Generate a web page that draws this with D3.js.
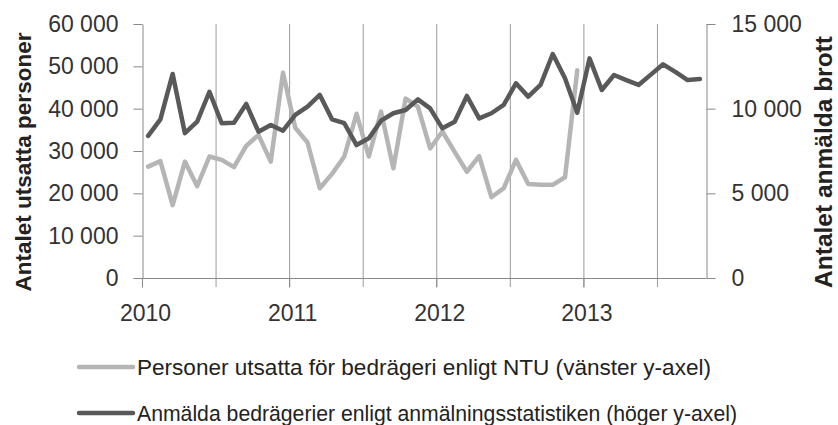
<!DOCTYPE html>
<html>
<head>
  <meta charset="utf-8">
  <style>
    body { margin: 0; background: #fff; }
    svg { display: block; font-family: "Liberation Sans", Arial, sans-serif; }
    .tick text { fill: #333; font-size: 23px; }
    .axis path, .axis line { stroke: #888; }
  </style>
</head>
<body>
  <svg id="chart" width="838" height="425"></svg>

  <script src="https://d3js.org/d3.v7.min.js"></script>
  <script>
    // months Jan 2010 - Oct 2013
    const months = [
      "2010-01","2010-02","2010-03","2010-04","2010-05","2010-06","2010-07","2010-08","2010-09","2010-10","2010-11","2010-12",
      "2011-01","2011-02","2011-03","2011-04","2011-05","2011-06","2011-07","2011-08","2011-09","2011-10","2011-11","2011-12",
      "2012-01","2012-02","2012-03","2012-04","2012-05","2012-06","2012-07","2012-08","2012-09","2012-10","2012-11","2012-12",
      "2013-01","2013-02","2013-03","2013-04","2013-05","2013-06","2013-07","2013-08","2013-09","2013-10"
    ];

    // NTU - left axis (ends Dec 2012)
    const ntu = [
      26300, 27600, 17200, 27500, 21700, 28700, 27900, 26200, 31200, 33800, 27500, 48500,
      35500, 32000, 21200, 24600, 28700, 38800, 28700, 39300, 25900, 42400, 40500, 30600,
      34600, 29800, 25100, 28800, 19100, 21200, 27900, 22200, 22000, 22000, 23800, 49100
    ];

    // reported frauds - right axis
    const reported = [
      8390, 9370, 12050, 8550, 9230, 11000, 9140, 9170, 10280, 8640, 9040, 8700,
      9630, 10120, 10810, 9370, 9140, 7850, 8250, 9290, 9730, 9920, 10550, 10020,
      8840, 9230, 10750, 9430, 9730, 10220, 11500, 10710, 11400, 13230, 11790, 9760,
      12970, 11100, 11990, 11690, 11400, 12010, 12620, 12170, 11690, 11750
    ];

    const leftTicks = [0, 10000, 20000, 30000, 40000, 50000, 60000];
    const rightTicks = [0, 5000, 10000, 15000];
    const yearLabels = ["2010", "2011", "2012", "2013"];
    const seriesNames = [
      "Personer utsatta för bedrägeri enligt NTU (vänster y-axel)",
      "Anmälda bedrägerier enligt anmälningsstatistiken (höger y-axel)"
    ];

    const fmt = d => d3.format(",")(d).replace(/,/g, " ");

    const svg = d3.select("#chart");
    const plotLeft = 142, plotRight = 706, plotTop = 24, plotBottom = 278;

    // x: category boundaries, points sit at the middle of each month
    const x = d3.scaleLinear().domain([0, months.length]).range([plotLeft, plotRight]);
    const yL = d3.scaleLinear().domain([0, 60000]).range([plotBottom, plotTop]);
    const yR = d3.scaleLinear().domain([0, 15000]).range([plotBottom, plotTop]);

    // vertical gridlines every half year
    const halfYears = d3.range(6, months.length, 6);
    svg.append("g").selectAll("line")
      .data(halfYears)
      .join("line")
      .attr("x1", d => x(d) + 0.5).attr("x2", d => x(d) + 0.5)
      .attr("y1", plotTop).attr("y2", plotBottom + 9)
      .attr("stroke", "#9a9a9a").attr("stroke-width", 1);

    // bottom axis
    const xAxis = svg.append("g")
      .attr("class", "axis")
      .attr("transform", "translate(0," + (plotBottom + 0.5) + ")")
      .call(d3.axisBottom(x)
        .tickValues(d3.range(0, months.length, 12))
        .tickSize(9)
        .tickSizeOuter(0)
        .tickFormat((d, i) => yearLabels[i]));
    xAxis.select(".domain").attr("d", "M" + plotLeft + ",0H" + plotRight);
    xAxis.selectAll("text").attr("y", 42).attr("dy", null).attr("dx", 3);

    // left axis
    svg.append("g")
      .attr("class", "axis")
      .attr("transform", "translate(" + (plotLeft + 0.5) + ",0)")
      .call(d3.axisLeft(yL).tickValues(leftTicks).tickSize(9).tickSizeOuter(0).tickPadding(15).tickFormat(fmt));

    // right axis
    svg.append("g")
      .attr("class", "axis")
      .attr("transform", "translate(" + (plotRight + 0.5) + ",0)")
      .call(d3.axisRight(yR).tickValues(rightTicks).tickSize(9).tickSizeOuter(0).tickPadding(16).tickFormat(fmt));

    svg.selectAll(".tick text").attr("font-family", "Liberation Sans, Arial, sans-serif");

    // lines
    const lineL = d3.line()
      .defined(d => d != null)
      .x((d, i) => x(i + 0.5))
      .y(d => yL(d));
    const lineR = d3.line()
      .x((d, i) => x(i + 0.5))
      .y(d => yR(d));

    svg.append("path")
      .datum(ntu)
      .attr("d", lineL)
      .attr("fill", "none")
      .attr("stroke", "#b5b5b5")
      .attr("stroke-width", 4.5)
      .attr("stroke-linejoin", "round")
      .attr("stroke-linecap", "round");

    svg.append("path")
      .datum(reported)
      .attr("d", lineR)
      .attr("fill", "none")
      .attr("stroke", "#595959")
      .attr("stroke-width", 4.5)
      .attr("stroke-linejoin", "round")
      .attr("stroke-linecap", "round");

    // axis titles
    svg.append("text")
      .attr("transform", "translate(31,162) rotate(-90)")
      .attr("text-anchor", "middle")
      .attr("font-weight", "bold")
      .attr("font-size", 22.5)
      .attr("fill", "#222")
      .text("Antalet utsatta personer");

    svg.append("text")
      .attr("transform", "translate(832,162) rotate(-90)")
      .attr("text-anchor", "middle")
      .attr("font-weight", "bold")
      .attr("font-size", 24.5)
      .attr("fill", "#222")
      .text("Antalet anmälda brott");

    // legend
    const legend = svg.append("g");
    const legendRows = [
      { name: seriesNames[0], color: "#b5b5b5", y: 367, len: 574 },
      { name: seriesNames[1], color: "#595959", y: 413, len: 600 }
    ];
    legendRows.forEach(r => {
      legend.append("line")
        .attr("x1", 79).attr("x2", 133)
        .attr("y1", r.y).attr("y2", r.y)
        .attr("stroke", r.color).attr("stroke-width", 4.5).attr("stroke-linecap", "round");
      legend.append("text")
        .attr("x", 137).attr("y", r.y + 8)
        .attr("font-family", "'Liberation Sans Narrow', 'Liberation Sans', sans-serif")
        .attr("font-size", 22)
        .attr("fill", "#222")
        .attr("textLength", r.len)
        .attr("lengthAdjust", "spacingAndGlyphs")
        .text(r.name);
    });
  </script>
</body>
</html>
